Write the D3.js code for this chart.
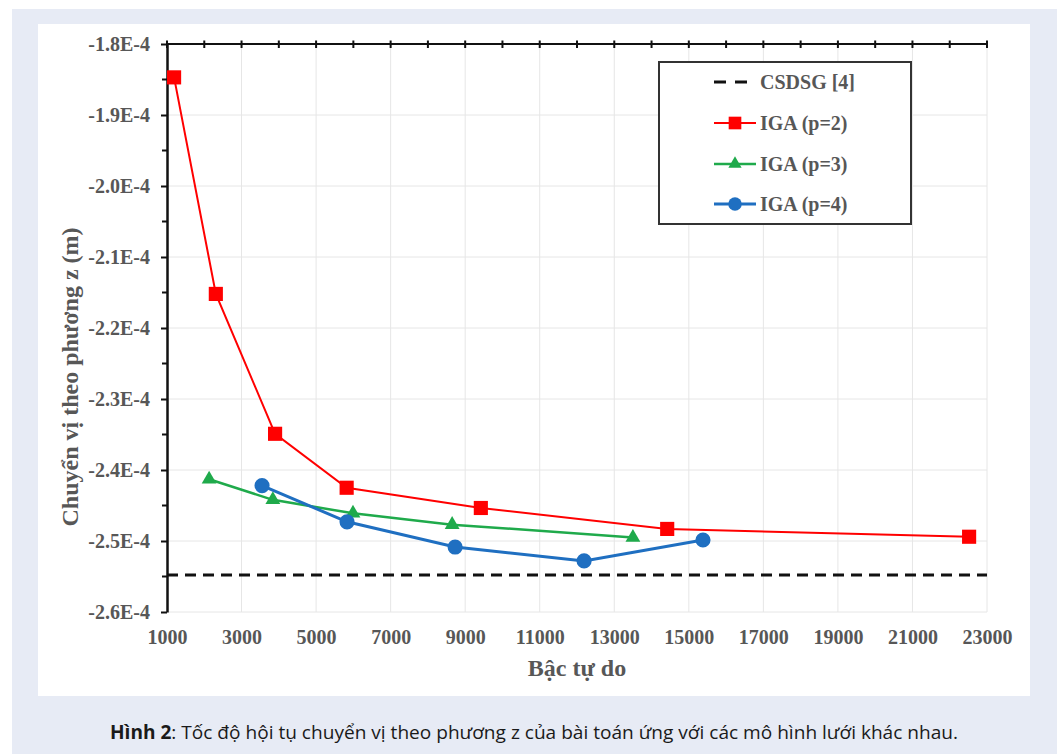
<!DOCTYPE html>
<html>
<head>
<meta charset="utf-8">
<script src="https://cdn.jsdelivr.net/npm/d3@7"></script>
<style>
  html, body { margin: 0; padding: 0; background: #ffffff; }
  svg { display: block; }
</style>
</head>
<body>
<svg id="chart" width="1060" height="754"></svg>
<script>
// Degrees of freedom and z-displacement for each IGA mesh order
const dofP2 = [1190, 2310, 3900, 5820, 9420, 14420, 22520];
const wP2 = [-1.847e-4, -2.152e-4, -2.349e-4, -2.425e-4, -2.4535e-4, -2.483e-4, -2.494e-4];

const dofP3 = [2130, 3840, 5990, 8650, 13500];
const wP3 = [-2.413e-4, -2.442e-4, -2.461e-4, -2.477e-4, -2.495e-4];

const dofP4 = [3550, 5830, 8730, 12190, 15380];
const wP4 = [-2.422e-4, -2.473e-4, -2.5085e-4, -2.528e-4, -2.4986e-4];

// Reference solution
const wCSDSG = -2.548e-4;

const xTicks = [1000, 3000, 5000, 7000, 9000, 11000, 13000, 15000, 17000, 19000, 21000, 23000];
const yTicks = [-1.8e-4, -1.9e-4, -2.0e-4, -2.1e-4, -2.2e-4, -2.3e-4, -2.4e-4, -2.5e-4, -2.6e-4];

const legendLabels = ["CSDSG [4]", "IGA (p=2)", "IGA (p=3)", "IGA (p=4)"];
const xTitle = "Bậc tự do";
const yTitle = "Chuyển vị theo phương z (m)";

const svg = d3.select("#chart");
const serif = "'Liberation Serif', 'Times New Roman', serif";
const textGray = "#575757";

// Page background and white figure panel
svg.append("rect").attr("x", 12).attr("y", 9).attr("width", 1045).attr("height", 745).attr("fill", "#e7ebf5");
svg.append("rect").attr("x", 38).attr("y", 24).attr("width", 992).attr("height", 672).attr("fill", "#ffffff");

const plot = { left: 167, right: 987, top: 44, bottom: 612 };

const x = d3.scaleLinear().domain([1000, 23000]).range([plot.left, plot.right]);
const y = d3.scaleLinear().domain([-1.8e-4, -2.6e-4]).range([plot.top, plot.bottom]);

const fmtY = d => (d * 1e4).toFixed(1) + "E-4";

// Gridlines
const grid = svg.append("g").attr("stroke", "#e6e6e6").attr("stroke-width", 1);
grid.selectAll("line.v").data(xTicks.slice(1)).join("line")
  .attr("x1", d => x(d)).attr("x2", d => x(d))
  .attr("y1", plot.top).attr("y2", plot.bottom);
grid.selectAll("line.h").data(yTicks.slice(1)).join("line")
  .attr("x1", plot.left).attr("x2", plot.right)
  .attr("y1", d => y(d)).attr("y2", d => y(d));

// Bottom axis: labels only
const xAxis = svg.append("g")
  .attr("transform", `translate(0,${plot.bottom})`)
  .call(d3.axisBottom(x).tickValues(xTicks).tickFormat(d3.format("d")).tickSize(0).tickPadding(32));
xAxis.select(".domain").remove();
xAxis.selectAll("text")
  .attr("font-family", serif).attr("font-weight", "bold").attr("font-size", 20)
  .attr("fill", textGray).attr("dy", 0);

// Top axis: black line with crossing ticks every 1000
const topTicks = d3.range(1000, 23001, 1000);
svg.append("line")
  .attr("x1", plot.left).attr("x2", plot.right)
  .attr("y1", plot.top).attr("y2", plot.top)
  .attr("stroke", "#111").attr("stroke-width", 2);
svg.append("g").selectAll("line").data(topTicks).join("line")
  .attr("x1", d => x(d)).attr("x2", d => x(d))
  .attr("y1", plot.top - 3.5).attr("y2", plot.top + 4)
  .attr("stroke", "#111").attr("stroke-width", 2);

// Left axis with major and minor ticks
const yAxis = svg.append("g")
  .attr("transform", `translate(${plot.left},0)`)
  .call(d3.axisLeft(y).tickValues(yTicks).tickFormat(fmtY).tickSize(6).tickSizeOuter(0).tickPadding(11));
yAxis.select(".domain").attr("stroke", "#111").attr("stroke-width", 2.5);
yAxis.selectAll(".tick line").attr("stroke", "#111").attr("stroke-width", 2);
yAxis.selectAll("text")
  .attr("font-family", serif).attr("font-weight", "bold").attr("font-size", 20)
  .attr("fill", textGray);
const minorY = d3.range(0, yTicks.length - 1).map(i => (yTicks[i] + yTicks[i + 1]) / 2);
svg.append("g").selectAll("line").data(minorY).join("line")
  .attr("x1", plot.left - 5).attr("x2", plot.left)
  .attr("y1", d => y(d)).attr("y2", d => y(d))
  .attr("stroke", "#111").attr("stroke-width", 2);

// Axis titles
svg.append("text")
  .attr("x", (plot.left + plot.right) / 2).attr("y", 676)
  .attr("text-anchor", "middle")
  .attr("font-family", serif).attr("font-weight", "bold").attr("font-size", 24)
  .attr("fill", textGray).text(xTitle);
svg.append("text")
  .attr("transform", "translate(78,377) rotate(-90)")
  .attr("text-anchor", "middle")
  .attr("font-family", serif).attr("font-weight", "bold").attr("font-size", 24)
  .attr("fill", textGray).text(yTitle);

// Reference dashed line
svg.append("line")
  .attr("x1", plot.left).attr("x2", plot.right)
  .attr("y1", y(wCSDSG)).attr("y2", y(wCSDSG))
  .attr("stroke", "#111").attr("stroke-width", 3)
  .attr("stroke-dasharray", "11,7");

const series = [
  { dof: dofP2, w: wP2, color: "#ff0000", symbol: d3.symbolSquare, size: 200, width: 2 },
  { dof: dofP3, w: wP3, color: "#1faa4b", symbol: d3.symbolTriangle, size: 95, width: 2.5 },
  { dof: dofP4, w: wP4, color: "#1f6fc1", symbol: d3.symbolCircle, size: 180, width: 3 }
];

const line = d3.line().x(d => x(d[0])).y(d => y(d[1]));

series.forEach(s => {
  const pts = s.dof.map((d, i) => [d, s.w[i]]);
  svg.append("path").datum(pts)
    .attr("d", line).attr("fill", "none")
    .attr("stroke", s.color).attr("stroke-width", s.width);
  svg.append("g").selectAll("path").data(pts).join("path")
    .attr("transform", d => `translate(${x(d[0])},${y(d[1])})`)
    .attr("d", d3.symbol().type(s.symbol).size(s.size))
    .attr("fill", s.color);
});

// Legend
const lg = svg.append("g");
lg.append("rect").attr("x", 659).attr("y", 62).attr("width", 252).attr("height", 162)
  .attr("fill", "#ffffff").attr("stroke", "#333").attr("stroke-width", 2);
const rowY = [82, 123, 164, 204];
lg.append("line").attr("x1", 714).attr("x2", 748).attr("y1", rowY[0]).attr("y2", rowY[0])
  .attr("stroke", "#111").attr("stroke-width", 3).attr("stroke-dasharray", "12,9");
series.forEach((s, i) => {
  const yy = rowY[i + 1];
  lg.append("line").attr("x1", 714).attr("x2", 756).attr("y1", yy).attr("y2", yy)
    .attr("stroke", s.color).attr("stroke-width", s.width);
  lg.append("path").attr("transform", `translate(735,${yy})`)
    .attr("d", d3.symbol().type(s.symbol).size(s.size * 0.8)).attr("fill", s.color);
});
lg.selectAll("text").data(legendLabels).join("text")
  .attr("x", 760).attr("y", (d, i) => rowY[i] + 7)
  .attr("font-family", serif).attr("font-weight", "bold").attr("font-size", 20)
  .attr("fill", textGray).text(d => d);

// Figure caption
const cap = svg.append("text")
  .attr("x", 534).attr("y", 739).attr("text-anchor", "middle")
  .attr("font-family", "'Open Sans', 'Noto Sans', sans-serif").attr("font-size", 19)
  .attr("fill", "#1a1a1a")
  .attr("textLength", 848).attr("lengthAdjust", "spacingAndGlyphs");
cap.append("tspan").attr("font-weight", "bold").text("Hình 2");
cap.append("tspan").text(": Tốc độ hội tụ chuyển vị theo phương z của bài toán ứng với các mô hình lưới khác nhau.");
</script>
</body>
</html>
